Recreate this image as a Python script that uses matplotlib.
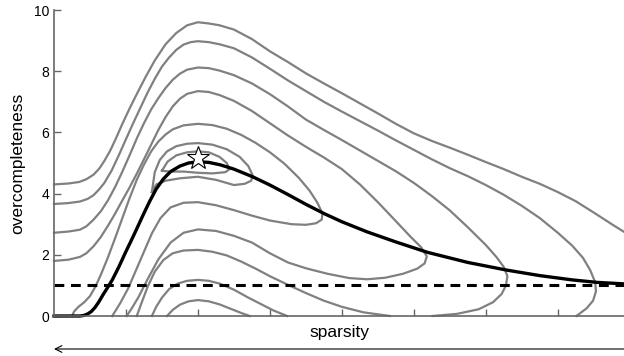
import matplotlib
matplotlib.use('Agg')
import matplotlib.pyplot as plt

plt.rcParams['font.family'] = ['Liberation Sans', 'DejaVu Sans']

# optimal overcompleteness for each sparsity (thick black ridge)
ridge_x = [0, 0.36, 0.42, 0.47, 0.52, 0.57, 0.62, 0.68, 0.75, 0.81, 0.9, 0.99, 1.07, 1.15,
           1.24, 1.33, 1.42, 1.52, 1.62, 1.75, 1.87, 2.0, 2.15, 2.31, 2.5, 2.76, 3.0, 3.25,
           3.5, 3.75, 4.0, 4.35, 4.75, 5.19, 5.75, 6.29, 6.75, 7.2, 7.54, 7.92]
ridge_y = [0, 0, 0.02, 0.07, 0.15, 0.28, 0.45, 0.69, 0.95, 1.18, 1.6, 2.06, 2.45, 2.85,
           3.31, 3.75, 4.15, 4.48, 4.72, 4.9, 5.0, 5.04, 5.02, 4.94, 4.8, 4.55, 4.28, 3.97,
           3.65, 3.35, 3.08, 2.75, 2.42, 2.08, 1.75, 1.5, 1.32, 1.18, 1.1, 1.05]

# best point
star_x, star_y = 2.0, 5.15

# contour lines (sparsity, overcompleteness)
c1_x = [0, 0.2, 0.35, 0.45, 0.55, 0.63, 0.7, 0.78, 0.86, 0.95, 1.05, 1.15, 1.27, 1.4, 1.55,
        1.7, 1.85, 2.0, 2.15, 2.3, 2.5, 2.75, 3.0, 3.25, 3.5, 3.75, 4.0, 4.25, 4.5, 4.75,
        5.0, 5.25, 5.5, 5.75, 6.0, 6.25, 6.5, 6.75, 7.0, 7.25, 7.5, 7.75, 7.92]
c1_y = [4.30, 4.33, 4.38, 4.47, 4.62, 4.82, 5.07, 5.40, 5.80, 6.28, 6.78, 7.25, 7.80, 8.35,
        8.88, 9.25, 9.5, 9.6, 9.56, 9.5, 9.36, 9.05, 8.65, 8.3, 7.93, 7.6, 7.28, 6.95, 6.62,
        6.28, 5.97, 5.72, 5.5, 5.27, 5.03, 4.8, 4.55, 4.32, 4.05, 3.75, 3.38, 3.0, 2.75]
c2_x = [0, 0.2, 0.36, 0.47, 0.55, 0.62, 0.7, 0.8, 0.9, 1.0, 1.1, 1.2, 1.3, 1.4, 1.5, 1.6,
        1.7, 1.8, 1.9, 2.0, 2.15, 2.3, 2.5, 2.75, 3.0, 3.25, 3.5, 3.75, 4.0, 4.25, 4.5,
        4.75, 5.0, 5.25, 5.5, 5.75, 6.0, 6.25, 6.5, 6.75, 7.0, 7.2, 7.35, 7.45, 7.52, 7.53,
        7.49, 7.4, 7.26]
c2_y = [3.66, 3.69, 3.74, 3.83, 3.95, 4.12, 4.35, 4.75, 5.25, 5.78, 6.3, 6.8, 7.3, 7.75,
        8.15, 8.45, 8.7, 8.87, 8.95, 8.98, 8.95, 8.88, 8.75, 8.45, 8.08, 7.7, 7.35, 7.0,
        6.68, 6.37, 6.06, 5.74, 5.43, 5.12, 4.83, 4.57, 4.28, 3.96, 3.6, 3.2, 2.72, 2.3,
        1.9, 1.5, 1.1, 0.8, 0.5, 0.25, 0]
c3_x = [0, 0.2, 0.36, 0.45, 0.55, 0.65, 0.75, 0.85, 0.95, 1.05, 1.15, 1.25, 1.35, 1.45,
        1.55, 1.65, 1.75, 1.85, 2.0, 2.15, 2.3, 2.5, 2.75, 3.0, 3.25, 3.5, 3.75, 4.0, 4.25,
        4.5, 4.75, 5.0, 5.25, 5.5, 5.75, 6.0, 6.15, 6.25, 6.3, 6.28, 6.22, 6.1, 5.9, 5.6,
        5.26]
c3_y = [2.72, 2.76, 2.82, 2.93, 3.15, 3.42, 3.78, 4.22, 4.72, 5.25, 5.8, 6.3, 6.75, 7.12,
        7.45, 7.72, 7.92, 8.05, 8.12, 8.1, 8.02, 7.87, 7.6, 7.25, 6.85, 6.42, 6.08, 5.75,
        5.41, 5.07, 4.73, 4.35, 3.92, 3.45, 2.9, 2.32, 1.92, 1.6, 1.3, 1.0, 0.72, 0.45,
        0.22, 0.07, 0]
c4_x = [0, 0.2, 0.36, 0.45, 0.55, 0.65, 0.75, 0.85, 0.95, 1.05, 1.15, 1.25, 1.35, 1.45,
        1.55, 1.65, 1.75, 1.85, 2.0, 2.15, 2.3, 2.5, 2.75, 3.0, 3.25, 3.5, 3.75, 4.0, 4.25,
        4.5, 4.75, 4.95, 5.1, 5.18, 5.15, 5.05, 4.85, 4.6, 4.35, 4.1, 3.8, 3.5, 3.25, 3.0,
        2.75, 2.5, 2.25, 2.0, 1.8, 1.62, 1.45, 1.3, 1.17, 1.08, 1.01]
c4_y = [1.80, 1.84, 1.93, 2.05, 2.28, 2.58, 2.95, 3.35, 3.78, 4.2, 4.65, 5.12, 5.6, 6.08,
        6.5, 6.85, 7.1, 7.26, 7.35, 7.32, 7.22, 7.03, 6.7, 6.3, 5.9, 5.53, 5.18, 4.8, 4.3,
        3.72, 3.1, 2.6, 2.25, 1.95, 1.72, 1.55, 1.38, 1.25, 1.2, 1.24, 1.38, 1.56, 1.75,
        2.05, 2.4, 2.62, 2.78, 2.83, 2.72, 2.4, 1.85, 1.2, 0.6, 0.25, 0]
c5_x = [0.25, 0.28, 0.34, 0.42, 0.5, 0.58, 0.66, 0.75, 0.85, 0.95, 1.05, 1.15, 1.25, 1.35,
        1.45, 1.55, 1.65, 1.8, 2.0, 2.2, 2.4, 2.6, 2.8, 3.0, 3.2, 3.4, 3.55, 3.66, 3.73,
        3.72, 3.64, 3.5, 3.3, 3.0, 2.75, 2.5, 2.25, 2.0, 1.8, 1.62, 1.48, 1.36, 1.25, 1.14,
        1.03, 0.92, 0.81]
c5_y = [0, 0.15, 0.3, 0.45, 0.65, 0.98, 1.4, 1.92, 2.55, 3.2, 3.85, 4.45, 4.95, 5.38,
        5.7, 5.93, 6.1, 6.23, 6.28, 6.24, 6.12, 5.92, 5.66, 5.35, 4.98, 4.52, 4.1, 3.7,
        3.35, 3.15, 3.03, 2.98, 3.0, 3.12, 3.28, 3.46, 3.62, 3.72, 3.7, 3.55, 3.2, 2.7,
        2.1, 1.5, 0.9, 0.42, 0]
c6_x = [1.36, 1.4, 1.47, 1.57, 1.7, 1.85, 2.0, 2.2, 2.4, 2.58, 2.7, 2.76, 2.74, 2.65, 2.5,
        2.25, 2.0, 1.75, 1.55, 1.42, 1.36]
c6_y = [4.05, 4.7, 5.1, 5.38, 5.55, 5.63, 5.65, 5.6, 5.45, 5.2, 4.9, 4.6, 4.42, 4.32, 4.28,
        4.45, 4.55, 4.5, 4.42, 4.3, 4.05]
c7_x = [1.5, 1.58, 1.7, 1.85, 2.0, 2.15, 2.3, 2.4, 2.44, 2.38, 2.2, 2.0, 1.8, 1.6, 1.5]
c7_y = [4.75, 5.05, 5.25, 5.35, 5.38, 5.35, 5.2, 5.0, 4.8, 4.7, 4.66, 4.68, 4.72, 4.72, 4.75]
a1_x = [1.15, 1.22, 1.3, 1.4, 1.52, 1.65, 1.8, 2.0, 2.2, 2.4, 2.6, 2.8, 3.0, 3.25, 3.5,
        3.75, 4.0, 4.3, 4.67]
a1_y = [0, 0.45, 0.95, 1.45, 1.83, 2.05, 2.14, 2.16, 2.1, 1.98, 1.78, 1.55, 1.3, 1.02,
        0.75, 0.5, 0.3, 0.12, 0]
a2_x = [1.36, 1.42, 1.5, 1.6, 1.72, 1.85, 2.0, 2.15, 2.3, 2.5, 2.7, 2.9, 3.05, 3.24]
a2_y = [0, 0.3, 0.6, 0.88, 1.06, 1.15, 1.18, 1.15, 1.06, 0.86, 0.6, 0.36, 0.18, 0]
a3_x = [1.57, 1.65, 1.75, 1.87, 2.0, 2.15, 2.3, 2.45, 2.6, 2.72]
a3_y = [0, 0.2, 0.37, 0.48, 0.52, 0.48, 0.38, 0.24, 0.1, 0]

contours = [(c1_x, c1_y), (c2_x, c2_y), (c3_x, c3_y), (c4_x, c4_y), (c5_x, c5_y),
            (c6_x, c6_y), (c7_x, c7_y), (a1_x, a1_y), (a2_x, a2_y), (a3_x, a3_y)]

fig = plt.figure(figsize=(6.24, 3.56), dpi=100)
ax = fig.add_axes([54 / 624, 40 / 356, 570 / 624, 306 / 356])

for cx, cy in contours:
    ax.plot(cx, cy, color='#808080', lw=1.6, clip_on=False, solid_joinstyle='round')

ax.axhline(1, color='black', lw=2.2, ls=(0, (3.2, 2.2)))
ax.plot(ridge_x, ridge_y, color='black', lw=2.4, clip_on=False, solid_joinstyle='round')
ax.plot(star_x, star_y, marker='*', ms=17, mfc='white', mec='black', mew=0.8,
        zorder=5)

ax.set_xlim(0, 7.92)
ax.set_ylim(0, 10)
ax.set_yticks([0, 2, 4, 6, 8, 10])
ax.set_xticks([1, 2, 3, 4, 5, 6, 7])
ax.set_xticklabels([])
ax.tick_params(direction='in', length=5, width=1, colors='#666666', labelcolor='black',
               labelsize=10)
for s in ['top', 'right']:
    ax.spines[s].set_visible(False)
for s in ['left', 'bottom']:
    ax.spines[s].set_color('#666666')
    ax.spines[s].set_linewidth(1.2)

ax.set_ylabel('overcompleteness', fontsize=12.5, labelpad=6)
ax.set_xlabel('sparsity', fontsize=12.5, labelpad=3)

ax.annotate('', xy=(54 / 624, 7 / 356), xytext=(1.0, 7 / 356),
            xycoords='figure fraction', textcoords='figure fraction',
            arrowprops=dict(arrowstyle='->', lw=0.8, color='black',
                            shrinkA=0, shrinkB=0, mutation_scale=12))

fig.savefig('out.png', dpi=100)
